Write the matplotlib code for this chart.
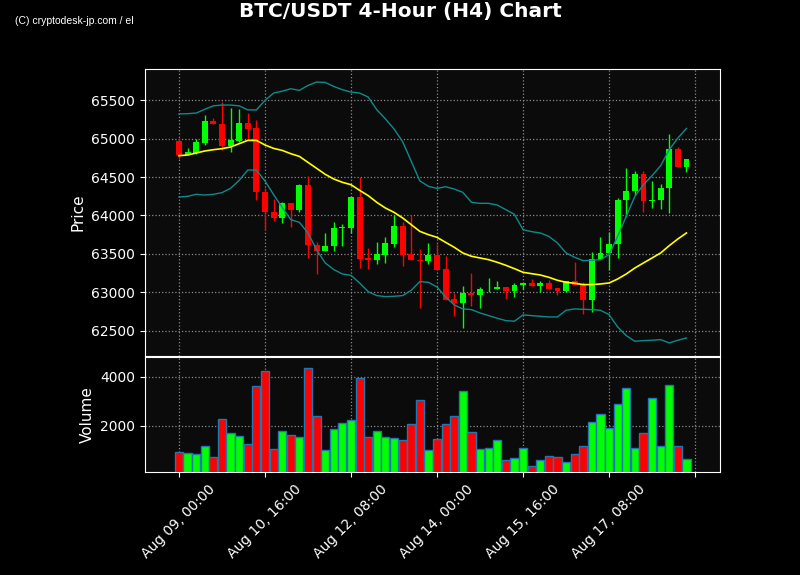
import matplotlib
matplotlib.use('Agg')
import matplotlib.pyplot as plt
import numpy as np
import pandas as pd

# ── Data (4h candles) ─────────────────────────────────────────────────────────
start = '2023-08-09 00:00'
opens = [64972, 64790, 64812, 64946, 65232, 65193, 64898, 64972, 65206, 65141,
         64310, 64050, 63963, 64162, 64067, 64396, 63617, 63535, 63600, 63838,
         63833, 64245, 63452, 63418, 63483, 63634, 63868, 63496, 63422, 63405,
         63491, 63310, 62920, 62859, 62998, 62963, 63041, 63041, 63076, 63015,
         63093, 63128, 63080, 63123, 63063, 63020, 63149, 63106, 62898, 63435,
         63513, 63626, 64197, 64314, 64543, 64184, 64197, 64353, 64868, 64634]
highs = [65006, 64872, 64998, 65305, 65266, 65470, 65396, 65383, 65331, 65236,
         64362, 64214, 64180, 64162, 64405, 64509, 63656, 63768, 63916, 63890,
         64258, 64500, 63574, 63652, 63721, 64002, 63911, 64002, 63565, 63643,
         63630, 63478, 62994, 63080, 63253, 63071, 63184, 63145, 63076, 63123,
         63128, 63171, 63145, 63158, 63063, 63149, 63396, 63136, 63522, 63721,
         63781, 64223, 64617, 64578, 64578, 64448, 64409, 65058, 64890, 64734]
lows = [64734, 64790, 64803, 64916, 65184, 64855, 64825, 64955, 64985, 64206,
        63807, 63929, 63903, 63851, 64041, 63448, 63240, 63535, 63539, 63608,
        63768, 63318, 63305, 63374, 63383, 63591, 63348, 63418, 62799, 63370,
        63297, 62907, 62690, 62539, 62820, 62799, 63000, 63041, 62916, 62941,
        63046, 63080, 63011, 63050, 62968, 63007, 63102, 62721, 62751, 63435,
        63297, 63448, 63981, 64271, 64050, 64097, 64089, 64032, 64634, 64565]
closes = [64790, 64829, 64959, 65232, 65184, 64898, 64985, 65206, 65128, 64301,
          64041, 63963, 64162, 64067, 64396, 63613, 63535, 63608, 63842, 63846,
          64245, 63439, 63418, 63496, 63643, 63868, 63483, 63418, 63405, 63491,
          63297, 62907, 62859, 62998, 62963, 63045, 63050, 63076, 63015, 63102,
          63128, 63080, 63123, 63050, 63020, 63149, 63102, 62898, 63435, 63513,
          63634, 64206, 64323, 64543, 64184, 64206, 64361, 64868, 64634, 64734]
volumes = [926, 886, 845, 1185, 736, 2286, 1702, 1593, 1266, 3633,
           4245, 1062, 1797, 1634, 1552, 4367, 2409, 1008, 1878, 2123,
           2246, 3959, 1552, 1797, 1552, 1511, 1430, 2082, 3062, 1022,
           1470, 2082, 2409, 3429, 1756, 1062, 1103, 1430, 614, 695,
           1103, 369, 614, 777, 736, 532, 858, 1158, 2164, 2490,
           1919, 2898, 3551, 1103, 1715, 3143, 1185, 3674, 1185, 654]

# Bollinger bands (20, 2) as drawn on the chart
bb_upper = [65320, 65323, 65331, 65380, 65425, 65435, 65435, 65425, 65372, 65372,
            65495, 65591, 65615, 65647, 65626, 65690, 65734, 65729, 65677, 65634,
            65604, 65591, 65539, 65374, 65255, 65125, 64960, 64705, 64450, 64379,
            64352, 64374, 64344, 64301, 64171, 64158, 64158, 64136, 64076, 64015,
            63816, 63790, 63773, 63729, 63643, 63513, 63457, 63413, 63418, 63426,
            63491, 63729, 63989, 64249, 64400, 64517, 64647, 64855, 65006, 65132]
bb_mid = [64777, 64786, 64812, 64838, 64855, 64868, 64890, 64933, 64976, 64976,
          64916, 64872, 64846, 64803, 64768, 64690, 64613, 64535, 64474, 64431,
          64400, 64327, 64258, 64171, 64097, 64041, 63968, 63881, 63794, 63751,
          63716, 63651, 63587, 63513, 63470, 63448, 63426, 63392, 63353, 63309,
          63262, 63244, 63227, 63197, 63158, 63132, 63119, 63102, 63102, 63110,
          63123, 63175, 63240, 63318, 63383, 63448, 63513, 63608, 63695, 63773]
bb_lower = [64240, 64249, 64275, 64266, 64275, 64297, 64353, 64457, 64591, 64591,
            64448, 64271, 64105, 63946, 63911, 63772, 63556, 63383, 63297, 63240,
            63223, 63123, 63011, 62959, 62946, 62950, 62959, 63028, 63141, 63132,
            63071, 62942, 62838, 62786, 62777, 62734, 62699, 62665, 62634, 62626,
            62708, 62699, 62690, 62682, 62682, 62768, 62786, 62781, 62777, 62768,
            62712, 62552, 62439, 62366, 62374, 62379, 62387, 62344, 62379, 62409]

# ── Style ─────────────────────────────────────────────────────────────────────
UP, DOWN = '#00ff00', '#ff0000'
BG_FIG, BG_AX = '#000000', '#0b0b0b'
GRID = dict(color='#8a8a8a', linestyle=':', linewidth=0.9)

n = len(closes)
x = np.arange(n)
o, h, l, c = map(np.array, (opens, highs, lows, closes))
colors = np.where(c >= o, UP, DOWN)

fig = plt.figure(figsize=(8, 5.75), dpi=100, facecolor=BG_FIG)
ax = fig.add_axes([0.18125, 0.3809, 0.71875, 0.4991])
axv = fig.add_axes([0.18125, 0.1791, 0.71875, 0.2000], sharex=ax)

for a in (ax, axv):
    a.set_facecolor(BG_AX)
    for s in a.spines.values():
        s.set_color('white')
    a.tick_params(colors='white', labelsize=10)
    a.grid(True, **GRID)
    a.set_axisbelow(True)

# candles
ax.vlines(x, l, h, colors=colors, linewidth=1, zorder=2)
ax.bar(x, np.abs(c - o), bottom=np.minimum(o, c), width=0.68,
       color=colors, linewidth=0, zorder=3)

# bollinger bands
ax.plot(x, bb_upper, color='#0f8a8a', linewidth=1, zorder=4)
ax.plot(x, bb_lower, color='#0f8a8a', linewidth=1, zorder=4)
ax.plot(x, bb_mid, color='#ffff00', linewidth=1.2, zorder=4)

ax.set_yticks(np.arange(62500, 65501, 500))
ax.set_ylabel('Price', color='white', fontsize=11)
ax.tick_params(axis='x', labelbottom=False)

# volume
axv.bar(x, volumes, width=0.95, color=colors, edgecolor='#1f77b4',
        linewidth=1, zorder=3)
axv.set_ylim(0.3 * min(volumes), 1.1 * max(volumes))
axv.set_yticks([2000, 4000])
axv.set_ylabel('Volume', color='white', fontsize=11)

dates = pd.date_range(start, periods=n, freq='4h')
ticks = np.arange(0, n + 1, 10)
labels = [dates[t].strftime('%b %d, %H:%M') if t < n else '' for t in ticks]
axv.set_xticks(ticks)
axv.set_xticklabels(labels, rotation=45, ha='center')
axv.set_xlim(-3.95, 62.9)

fig.suptitle('BTC/USDT 4-Hour (H4) Chart', color='white', fontsize=14.5,
             fontweight='bold', y=0.997)
fig.text(0.019, 0.963, '(C) cryptodesk-jp.com / el', color='white', fontsize=7.5,
         family=['Liberation Sans', 'DejaVu Sans'], va='center')

fig.savefig('out.png', dpi=100, facecolor=BG_FIG)
